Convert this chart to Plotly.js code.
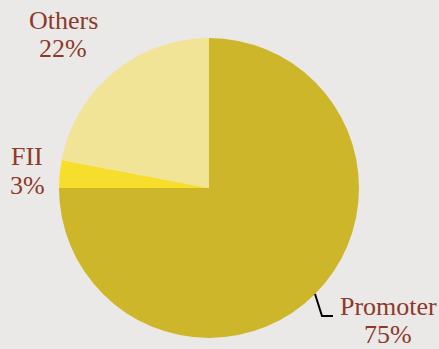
<!DOCTYPE html>
<html>
<head>
<meta charset="utf-8">
<script src="https://cdn.plot.ly/plotly-3.0.1.min.js"></script>
<style>html,body{margin:0;padding:0;background:#ebe9e7;}#chart{width:439px;height:349px;}</style>
</head>
<body>
<div id="chart"></div>
<script>
const labels = ["Promoter", "FII", "Others"];
const values = [75, 3, 22];
const pctText = ["75%", "3%", "22%"];
const colors = ["#ceb62b", "#f8de2c", "#f2e497"];

const W = 439, H = 349;
const px = x => x / W;
const py = y => 1 - y / H;

const font = {family: "Liberation Serif, serif", size: 26, color: "#8c3a2b"};

const labelPos = {
  "Others":   {x: 63,  y1: 20,  y2: 49},
  "FII":      {x: 27,  y1: 156, y2: 185},
  "Promoter": {x: 388, y1: 306, y2: 334}
};

const annotations = [];
labels.forEach((lab, i) => {
  const p = labelPos[lab];
  annotations.push({x: px(p.x), y: py(p.y1), xref: "paper", yref: "paper", text: lab,
    showarrow: false, xanchor: "center", yanchor: "middle", font: font});
  annotations.push({x: px(p.x), y: py(p.y2), xref: "paper", yref: "paper", text: pctText[i],
    showarrow: false, xanchor: "center", yanchor: "middle", font: font});
});

const trace = {
  type: "pie",
  labels: labels,
  values: values,
  sort: false,
  direction: "clockwise",
  rotation: 0,
  textinfo: "none",
  hoverinfo: "label+percent",
  marker: {colors: colors, line: {width: 0}},
  domain: {x: [px(59), px(359)], y: [py(338), py(38)]},
  showlegend: false
};

const layout = {
  width: W, height: H,
  margin: {l: 0, r: 0, t: 0, b: 0},
  paper_bgcolor: "#ebe9e7",
  plot_bgcolor: "#ebe9e7",
  showlegend: false,
  annotations: annotations,
  shapes: [{
    type: "path", xref: "paper", yref: "paper",
    path: `M ${px(315)} ${py(294)} L ${px(322)} ${py(316)} L ${px(333)} ${py(316)}`,
    line: {color: "#000000", width: 2}
  }]
};

Plotly.newPlot("chart", [trace], layout, {displayModeBar: false, staticPlot: true});
</script>
</body>
</html>
